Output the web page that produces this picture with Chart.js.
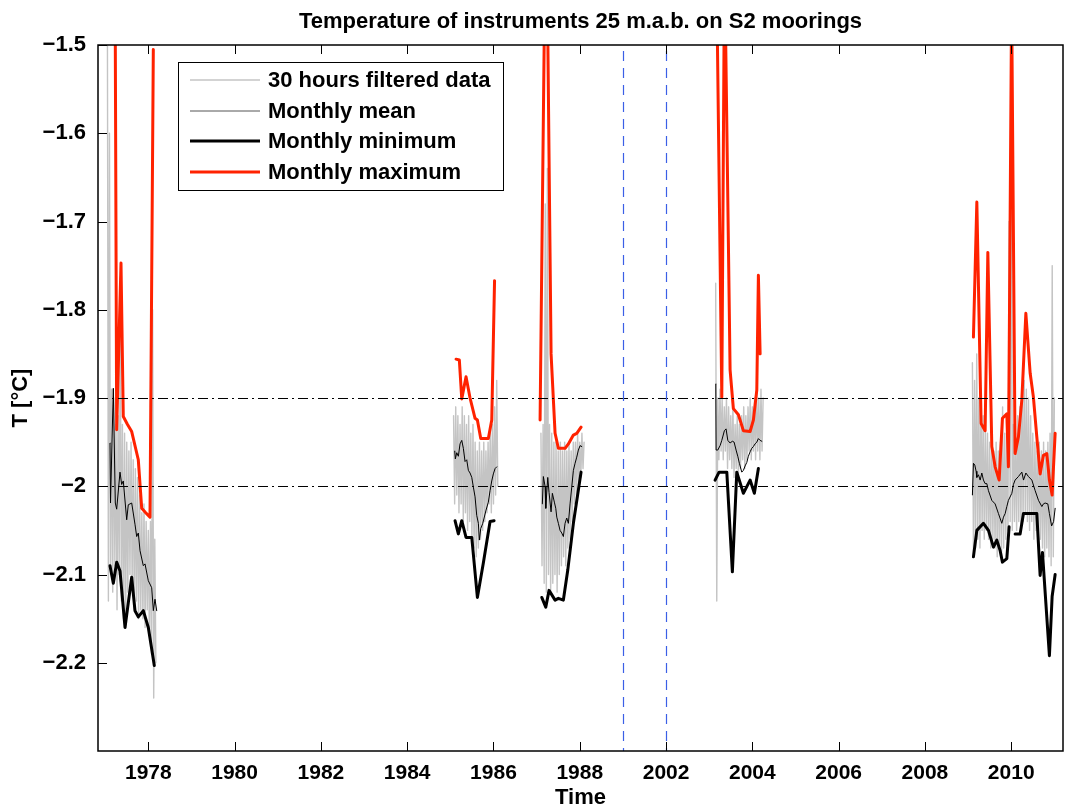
<!DOCTYPE html>
<html>
<head>
<meta charset="utf-8">
<title>Temperature of instruments 25 m.a.b. on S2 moorings</title>
<script src="https://cdn.jsdelivr.net/npm/chart.js@4.4.1/dist/chart.umd.min.js"></script>
<style>
  html, body { margin: 0; padding: 0; background: #fff; overflow: hidden; }
  #wrap { width: 1065px; height: 808px; }
</style>
</head>
<body>
<div id="wrap"><canvas id="chart" width="1065" height="808"></canvas></div>
<script>
// ---- Data: one inner array per mooring deployment (years as decimal years) ----

// Monthly maximum (red)
const maxYears = [
  [1977.228, 1977.267, 1977.367, 1977.420, 1977.518, 1977.615, 1977.768, 1977.847, 1977.940, 1978.039, 1978.116],
  [1985.133, 1985.209, 1985.265, 1985.364, 1985.457, 1985.573, 1985.627, 1985.705, 1985.881, 1985.960, 1986.025],
  [1987.080, 1987.219, 1987.335, 1987.428, 1987.504, 1987.660, 1987.736, 1987.852, 1987.930, 1988.030],
  [2003.166, 2003.292, 2003.356, 2003.484, 2003.560, 2003.677, 2003.792, 2003.948, 2004.024, 2004.103, 2004.140, 2004.180],
  [2009.124, 2009.203, 2009.302, 2009.395, 2009.458, 2009.550, 2009.627, 2009.720, 2009.796, 2009.898, 2009.935,
   2010.009, 2010.090, 2010.167, 2010.246, 2010.339, 2010.439, 2010.514, 2010.593, 2010.670, 2010.746, 2010.825,
   2010.885, 2010.948, 2011.018]
];
const maxTemps = [
  [-1.40, -1.936, -1.747, -1.921, -1.930, -1.938, -1.970, -2.025, -2.030, -2.035, -1.505],
  [-1.856, -1.857, -1.901, -1.876, -1.900, -1.923, -1.925, -1.946, -1.946, -1.925, -1.767],
  [-1.925, -1.30, -1.850, -1.940, -1.957, -1.957, -1.952, -1.942, -1.940, -1.933],
  [-1.40, -1.899, -1.40, -1.868, -1.912, -1.919, -1.937, -1.938, -1.925, -1.891, -1.761, -1.850],
  [-1.831, -1.678, -1.929, -1.937, -1.735, -1.955, -1.978, -1.993, -1.923, -1.918, -1.978,
   -1.45, -1.963, -1.944, -1.902, -1.804, -1.872, -1.899, -1.944, -1.986, -1.965, -1.963,
   -1.993, -2.010, -1.940]
];

// Monthly minimum (thick black); null marks a missing month
const minYears = [
  [1977.112, 1977.189, 1977.267, 1977.344, 1977.460, 1977.615, 1977.691, 1977.768, 1977.884, 1978.000, 1978.139],
  [1985.109, 1985.186, 1985.265, 1985.364, 1985.497, 1985.627, 1985.765, 1985.921, 1986.014],
  [1987.119, 1987.212, 1987.288, 1987.428, 1987.504, 1987.620, 1987.722, 1987.852, 1988.030],
  [2003.136, 2003.229, 2003.408, 2003.537, 2003.639, 2003.792, 2003.948, 2004.047, 2004.140],
  [2009.124, 2009.203, 2009.356, 2009.472, 2009.588, 2009.666, 2009.743, 2009.796, 2009.898, 2009.951, 2010.020,
   2010.090, 2010.206, 2010.283, 2010.593, 2010.670, 2010.724, 2010.885, 2010.948, 2011.018]
];
const minTemps = [
  [-2.090, -2.110, -2.086, -2.096, -2.160, -2.103, -2.141, -2.148, -2.141, -2.160, -2.203],
  [-2.039, -2.054, -2.039, -2.058, -2.058, -2.126, -2.087, -2.040, -2.039],
  [-2.126, -2.137, -2.118, -2.129, -2.127, -2.129, -2.095, -2.042, -1.984],
  [-1.993, -1.984, -1.984, -2.097, -1.984, -2.008, -1.993, -2.008, -1.980],
  [-2.080, -2.050, -2.042, -2.050, -2.069, -2.061, -2.073, -2.086, -2.082, -2.046, null,
   -2.054, -2.054, -2.031, -2.031, -2.101, -2.075, -2.192, -2.125, -2.100]
];

// Monthly mean (thin black)
const meanYears = [
  [1977.112, 1977.124, 1977.189, 1977.235, 1977.267, 1977.344, 1977.383, 1977.420, 1977.499, 1977.536, 1977.576,
   1977.615, 1977.691, 1977.731, 1977.768, 1977.808, 1977.884, 1977.924, 1978.000, 1978.079, 1978.116, 1978.155, 1978.195],
  [1985.102, 1985.116, 1985.149, 1985.186, 1985.225, 1985.265, 1985.302, 1985.341, 1985.380, 1985.418, 1985.457,
   1985.497, 1985.534, 1985.573, 1985.612, 1985.650, 1985.673, 1985.705, 1985.752, 1985.782, 1985.828, 1985.881,
   1985.921, 1985.960, 1985.997, 1986.037, 1986.076],
  [1987.133, 1987.156, 1987.196, 1987.212, 1987.258, 1987.288, 1987.335, 1987.365, 1987.411, 1987.444, 1987.467,
   1987.504, 1987.543, 1987.583, 1987.620, 1987.659, 1987.698, 1987.736, 1987.775, 1987.814, 1987.852, 1987.891,
   1987.930, 1987.968, 1988.007, 1988.046],
  [2003.153, 2003.160, 2003.199, 2003.252, 2003.292, 2003.352, 2003.391, 2003.431, 2003.484, 2003.537, 2003.577,
   2003.623, 2003.662, 2003.700, 2003.755, 2003.792, 2003.832, 2003.871, 2003.908, 2003.948, 2003.987, 2004.024,
   2004.063, 2004.103, 2004.140, 2004.180, 2004.219],
  [2009.100, 2009.124, 2009.156, 2009.186, 2009.203, 2009.240, 2009.280, 2009.318, 2009.356, 2009.395, 2009.434,
   2009.472, 2009.550, 2009.627, 2009.704, 2009.782, 2009.820, 2009.859, 2009.898, 2009.935, 2010.014, 2010.051,
   2010.090, 2010.167, 2010.246, 2010.285, 2010.339, 2010.399, 2010.478, 2010.555, 2010.632, 2010.710, 2010.746,
   2010.786, 2010.848, 2010.885, 2010.936, 2010.982, 2011.018]
];
const meanTemps = [
  [-1.951, -2.019, -1.889, -2.019, -2.026, -1.984, -1.998, -1.994, -2.038, -2.021, -2.020,
   -2.019, -2.043, -2.057, -2.053, -2.073, -2.090, -2.088, -2.107, -2.115, -2.141, -2.128, -2.141],
  [-1.960, -1.969, -1.962, -1.966, -1.952, -1.948, -1.957, -1.972, -1.970, -1.982, -1.985,
   -1.990, -2.001, -2.012, -2.033, -2.042, -2.061, -2.048, -2.042, -2.036, -2.027, -2.018,
   -2.005, -1.994, -1.986, -1.980, -1.978],
  [-2.020, -1.989, -2.000, -2.025, -1.990, -2.007, -2.029, -2.008, -2.018, -2.025, -2.035,
   -2.042, -2.050, -2.053, -2.057, -2.042, -2.036, -2.042, -2.020, -2.001, -1.982, -1.974,
   -1.967, -1.959, -1.954, -1.955],
  [-1.884, -1.959, -1.959, -1.954, -1.948, -1.937, -1.935, -1.948, -1.951, -1.949, -1.950,
   -1.959, -1.966, -1.974, -1.984, -1.982, -1.977, -1.973, -1.966, -1.961, -1.957, -1.955,
   -1.952, -1.950, -1.946, -1.948, -1.949],
  [-2.010, -1.974, -1.976, -1.983, -1.990, -1.987, -1.993, -1.985, -1.993, -1.997, -1.997,
   -2.005, -2.016, -2.020, -2.031, -2.042, -2.035, -2.031, -2.023, -2.016, -2.008, -1.998,
   -1.993, -1.989, -1.984, -1.993, -1.985, -1.989, -1.993, -2.005, -2.016, -2.023, -2.020,
   -2.019, -2.020, -2.031, -2.045, -2.040, -2.025]
];

// 30 hours low-pass filtered record, sampled every FILTER_STEP years from each start
const FILTER_STEP = 0.025;
const filteredStart = [1977.050, 1985.075, 1987.100, 2003.150, 2009.100];
const filteredTemps = [
  [-1.42, -2.13, -1.60, -2.10, -1.89, -2.12, -1.90, -2.09, -1.93, -2.14, -1.92, -2.10, -1.80, -2.13, -1.93, -2.15,
   -1.94, -2.16, -1.95, -2.12, -1.96, -2.10, -1.95, -2.11, -1.97, -2.14, -1.98, -2.13, -1.99, -2.15, -2.01, -2.14,
   -2.03, -2.15, -2.02, -2.16, -2.04, -2.14, -2.05, -2.17, -2.04, -2.19, -1.80, -2.24, -2.06, -2.20],
  [-1.92, -2.02, -1.91, -2.01, -1.92, -2.03, -1.93, -2.02, -1.91, -2.04, -1.92, -2.03, -1.93, -2.05, -1.92, -2.04,
   -1.94, -2.06, -1.93, -2.07, -1.95, -2.08, -1.96, -2.07, -1.95, -2.06, -1.96, -2.05, -1.95, -2.04, -1.96, -2.03,
   -1.95, -2.02, -1.94, -2.03, -1.93, -2.02, -1.91, -2.01, -1.88, -2.00],
  [-1.94, -2.09, -1.93, -2.11, -1.68, -2.12, -1.64, -2.10, -1.93, -2.12, -1.94, -2.11, -1.95, -2.10, -1.95, -2.12,
   -1.96, -2.10, -1.95, -2.09, -1.96, -2.08, -1.95, -2.09, -1.96, -2.07, -1.95, -2.06, -1.96, -2.04, -1.95, -2.02,
   -1.95, -2.01, -1.94, -2.00, -1.95, -1.99, -1.94, -1.98, -1.95],
  [-1.77, -2.13, -1.90, -1.97, -1.89, -1.96, -1.90, -1.97, -1.91, -1.96, -1.90, -1.98, -1.91, -1.97, -1.92, -1.98,
   -1.91, -1.99, -1.93, -1.98, -1.92, -1.99, -1.93, -1.98, -1.92, -1.97, -1.91, -1.98, -1.92, -1.97, -1.91, -1.96,
   -1.90, -1.97, -1.91, -1.96, -1.90, -1.97, -1.89, -1.96, -1.90, -1.97, -1.89, -1.96, -1.90],
  [-1.86, -2.08, -1.88, -2.07, -1.85, -2.06, -1.90, -2.07, -1.89, -2.05, -1.92, -2.06, -1.93, -2.05, -1.94, -2.06,
   -1.95, -2.07, -1.94, -2.06, -1.96, -2.07, -1.95, -2.08, -1.96, -2.07, -1.95, -2.08, -1.91, -2.07, -1.94, -2.06,
   -1.93, -2.05, -1.70, -2.04, -1.45, -2.05, -1.93, -2.04, -1.94, -2.05, -1.92, -2.04, -1.91, -2.05, -1.89, -2.04,
   -1.88, -2.03, -1.89, -2.04, -1.90, -2.05, -1.92, -2.04, -1.94, -2.06, -1.95, -2.05, -1.96, -2.07, -1.95, -2.06,
   -1.96, -2.07, -1.95, -2.08, -1.96, -2.07, -1.95, -2.08, -1.94, -2.09, -1.75, -2.08, -1.90]
];

// Axis furniture
const xTickYears  = [1978, 1980, 1982, 1984, 1986, 1988, 2002, 2004, 2006, 2008, 2010];
const xTickLabels = ['1978', '1980', '1982', '1984', '1986', '1988', '2002', '2004', '2006', '2008', '2010'];
const yTicks      = [-1.5, -1.6, -1.7, -1.8, -1.9, -2.0, -2.1, -2.2];
const yTickLabels = ['\u22121.5', '\u22121.6', '\u22121.7', '\u22121.8', '\u22121.9', '\u22122', '\u22122.1', '\u22122.2'];
const refLevels   = [-1.9, -2.0];       // dash-dot reference temperatures
const breakYears  = [1989, 2002];       // dashed lines bounding the 1989-2002 gap
const Y_MIN = -2.3, Y_MAX = -1.5;

// The time axis skips 1990-2001: later years are shifted left by 12 years
const GAP_SHIFT = 12;
const X_MIN = 1976.834, X_MAX = 1999.20;
function axisYear(t) { return t >= 2001 ? t - GAP_SHIFT : t; }

function buildSeries(yearGroups, tempGroups) {
  const out = [];
  yearGroups.forEach((years, g) => {
    if (g > 0) out.push({ x: axisYear(years[0]) - 0.01, y: null });
    years.forEach((t, i) => out.push({ x: axisYear(t), y: tempGroups[g][i] }));
  });
  return out;
}
function buildFiltered() {
  const out = [];
  filteredTemps.forEach((vals, g) => {
    if (g > 0) out.push({ x: axisYear(filteredStart[g]) - 0.01, y: null });
    vals.forEach((v, i) => out.push({ x: axisYear(filteredStart[g] + i * FILTER_STEP), y: v }));
  });
  return out;
}

const FONT = '"Liberation Sans", Arial, Helvetica, sans-serif';
const FONT_SIZE = 22;
const RED = '#ff2200';
const GREY = '#c4c4c4';

const decorations = {
  id: 'decorations',
  afterDatasetsDraw(chart) {
    const { ctx, chartArea: a, scales: { x, y } } = chart;
    ctx.save();
    ctx.beginPath();
    ctx.rect(a.left, a.top, a.right - a.left, a.bottom - a.top);
    ctx.clip();
    ctx.lineWidth = 1;
    ctx.strokeStyle = '#000';
    ctx.setLineDash([10, 4, 2, 4]);
    refLevels.forEach(v => {
      const py = Math.round(y.getPixelForValue(v)) + 0.5;
      ctx.beginPath(); ctx.moveTo(a.left, py); ctx.lineTo(a.right, py); ctx.stroke();
    });
    ctx.strokeStyle = '#3b5fe6';
    ctx.lineWidth = 1.2;
    ctx.setLineDash([10, 7]);
    breakYears.forEach(t => {
      const px = Math.round(x.getPixelForValue(axisYear(t))) + 0.5;
      ctx.beginPath(); ctx.moveTo(px, a.top + 6); ctx.lineTo(px, a.bottom); ctx.stroke();
    });
    ctx.restore();
  },
  afterDraw(chart) {
    const { ctx, chartArea: a, scales: { x, y } } = chart;
    ctx.save();
    // axes box
    ctx.strokeStyle = '#000';
    ctx.lineWidth = 1.5;
    ctx.setLineDash([]);
    ctx.strokeRect(a.left, a.top, a.right - a.left, a.bottom - a.top);
    // inward tick marks
    const TL = 9;
    ctx.lineWidth = 1;
    ctx.beginPath();
    yTicks.forEach(v => {
      const py = Math.round(y.getPixelForValue(v)) + 0.5;
      ctx.moveTo(a.left, py); ctx.lineTo(a.left + TL, py);
    });
    xTickYears.forEach(t => {
      const px = Math.round(x.getPixelForValue(axisYear(t))) + 0.5;
      ctx.moveTo(px, a.top); ctx.lineTo(px, a.top + TL);
      ctx.moveTo(px, a.bottom); ctx.lineTo(px, a.bottom - TL);
    });
    ctx.stroke();

    // legend
    const box = { l: 178, t: 62, w: 325, h: 128 };
    ctx.fillStyle = '#fff';
    ctx.fillRect(box.l, box.t, box.w, box.h);
    ctx.lineWidth = 1;
    ctx.strokeStyle = '#000';
    ctx.strokeRect(box.l + 0.5, box.t + 0.5, box.w, box.h);
    const rows = [80, 111, 141, 172];
    ctx.font = 'bold ' + FONT_SIZE + 'px ' + FONT;
    ctx.textAlign = 'left';
    ctx.textBaseline = 'middle';
    chart.data.datasets.forEach((ds, r) => {
      ctx.strokeStyle = ds.legendColor || ds.borderColor;
      ctx.lineWidth = ds.legendWidth || ds.borderWidth;
      ctx.beginPath(); ctx.moveTo(190, rows[r]); ctx.lineTo(260, rows[r]); ctx.stroke();
      ctx.fillStyle = '#000';
      ctx.fillText(ds.label, 268, rows[r] + 1);
    });

    // titles
    ctx.fillStyle = '#000';
    ctx.textAlign = 'center';
    ctx.textBaseline = 'middle';
    const cx = (a.left + a.right) / 2;
    ctx.fillText('Temperature of instruments 25 m.a.b. on S2 moorings', cx, 22);
    ctx.fillText('Time', cx, 798);
    ctx.translate(21, (a.top + a.bottom) / 2);
    ctx.rotate(-Math.PI / 2);
    ctx.fillText('T [\u00B0C]', 0, 0);
    ctx.restore();
  }
};

new Chart(document.getElementById('chart'), {
  type: 'line',
  data: {
    datasets: [
      { label: '30 hours filtered data', data: buildFiltered(), borderColor: GREY, borderWidth: 1.4, legendWidth: 1.5, order: 4 },
      { label: 'Monthly mean', data: buildSeries(meanYears, meanTemps), borderColor: '#000', legendColor: '#555', borderWidth: 1, order: 3 },
      { label: 'Monthly minimum', data: buildSeries(minYears, minTemps), borderColor: '#000', borderWidth: 3, order: 2 },
      { label: 'Monthly maximum', data: buildSeries(maxYears, maxTemps), borderColor: RED, borderWidth: 3, order: 1 }
    ]
  },
  options: {
    responsive: false,
    animation: false,
    events: [],
    devicePixelRatio: 1,
    layout: { padding: { top: 45, right: 2, left: 0, bottom: 0 } },
    elements: {
      point: { radius: 0 },
      line: { tension: 0, borderJoinStyle: 'round', borderCapStyle: 'round' }
    },
    spanGaps: false,
    plugins: { legend: { display: false }, tooltip: { enabled: false }, title: { display: false } },
    scales: {
      x: {
        type: 'linear',
        min: X_MIN, max: X_MAX,
        grid: { display: false },
        border: { display: false },
        afterBuildTicks: s => { s.ticks = xTickYears.map(t => ({ value: axisYear(t) })); },
        afterFit: s => { s.height = 57; },
        ticks: {
          autoSkip: false, maxRotation: 0,
          padding: 2,
          color: '#000',
          font: { family: FONT, size: 21, weight: 'bold' },
          callback: (v, i) => xTickLabels[i]
        }
      },
      y: {
        type: 'linear',
        min: Y_MIN, max: Y_MAX,
        grid: { display: false },
        border: { display: false },
        afterBuildTicks: s => { s.ticks = yTicks.map(v => ({ value: v })); },
        afterFit: s => { s.width = 98; },
        ticks: {
          autoSkip: false,
          padding: 4,
          color: '#000',
          font: { family: FONT, size: FONT_SIZE, weight: 'bold' },
          callback: (v, i) => yTickLabels[i]
        }
      }
    }
  },
  plugins: [decorations]
});
</script>
</body>
</html>
